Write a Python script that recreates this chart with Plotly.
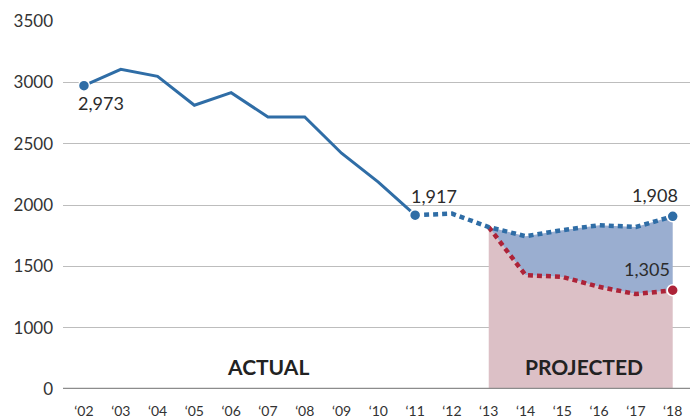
import plotly.graph_objects as go

years_actual = [2002, 2003, 2004, 2005, 2006, 2007, 2008, 2009, 2010, 2011]
actual = [2973, 3106, 3049, 2813, 2916, 2717, 2717, 2422, 2186, 1917]

years_bridge = [2011, 2012, 2013]
bridge = [1917, 1930, 1820]

years_proj = [2013, 2014, 2015, 2016, 2017, 2018]
proj_high = [1820, 1746, 1795, 1835, 1821, 1908]
proj_low = [1820, 1428, 1414, 1333, 1274, 1305]

tick_years = list(range(2002, 2019))
tick_labels = ["\u2018%02d" % (y % 100) for y in tick_years]

y_tickvals = [500, 1000, 1500, 2000, 2500, 3000, 3500]
y_ticktext = ["0", "1000", "1500", "2000", "2500", "3000", "3500"]
y_floor = 500  # axis is broken: the "0" tick sits one step below 1000

BLUE = "#2f6da6"
RED = "#ad2338"
BLUE_FILL = "#9aaed0"
PINK_FILL = "#dcc0c6"
FONT = "Lato"

fig = go.Figure()

# pink area: from the low projection down to the axis floor
fig.add_trace(go.Scatter(x=years_proj, y=[y_floor] * len(years_proj), mode="lines",
                         line=dict(width=0, color=PINK_FILL), hoverinfo="skip", showlegend=False))
fig.add_trace(go.Scatter(x=years_proj, y=proj_low, mode="lines", fill="tonexty",
                         fillcolor=PINK_FILL, line=dict(width=0, color=PINK_FILL),
                         hoverinfo="skip", showlegend=False))
# blue area between the two projections
fig.add_trace(go.Scatter(x=years_proj, y=proj_high, mode="lines", fill="tonexty",
                         fillcolor=BLUE_FILL, line=dict(width=0, color=BLUE_FILL),
                         hoverinfo="skip", showlegend=False))

# dotted projection lines
fig.add_trace(go.Scatter(x=years_proj, y=proj_low, mode="lines",
                         line=dict(color=RED, width=4.5, dash="5px,4px"), showlegend=False))
fig.add_trace(go.Scatter(x=years_bridge + years_proj[1:], y=bridge + proj_high[1:], mode="lines",
                         line=dict(color=BLUE, width=4.5, dash="5px,4px"), showlegend=False))

# actual solid line
fig.add_trace(go.Scatter(x=years_actual, y=actual, mode="lines",
                         line=dict(color=BLUE, width=3), showlegend=False))

# markers
fig.add_trace(go.Scatter(x=[years_actual[0], years_actual[-1], years_proj[-1]],
                         y=[actual[0], actual[-1], proj_high[-1]], mode="markers",
                         marker=dict(color=BLUE, size=11, line=dict(color="white", width=1.5)),
                         showlegend=False))
fig.add_trace(go.Scatter(x=[years_proj[-1]], y=[proj_low[-1]], mode="markers",
                         marker=dict(color=RED, size=11, line=dict(color="white", width=1.5)),
                         showlegend=False))

lab = dict(size=18, color="#2b2b2b", family=FONT)
fig.add_annotation(x=years_actual[0], y=actual[0], text=f"{actual[0]:,}", showarrow=False,
                   xanchor="left", yanchor="top", xshift=-8, yshift=-4, font=lab)
fig.add_annotation(x=years_actual[-1], y=actual[-1], text=f"{actual[-1]:,}", showarrow=False,
                   xanchor="left", yanchor="bottom", xshift=-6, yshift=6, font=lab)
fig.add_annotation(x=years_proj[-1], y=proj_high[-1], text=f"{proj_high[-1]:,}", showarrow=False,
                   xanchor="right", yanchor="bottom", xshift=7, yshift=8, font=lab)
fig.add_annotation(x=years_proj[-1], y=proj_low[-1], text=f"{proj_low[-1]:,}", showarrow=False,
                   xanchor="right", yanchor="bottom", xshift=-1, yshift=8, font=lab)

seg = dict(size=21, color="#222222", family=FONT, weight=700)
fig.add_annotation(x=2007.0, y=y_floor, text="ACTUAL", showarrow=False,
                   yanchor="bottom", yshift=8, font=seg)
fig.add_annotation(x=2015.6, y=y_floor, text="PROJECTED", showarrow=False,
                   yanchor="bottom", yshift=8, font=seg)

fig.update_layout(
    width=697, height=419,
    margin=dict(l=63, r=7, t=21, b=30, autoexpand=False),
    paper_bgcolor="white", plot_bgcolor="white",
    font=dict(family=FONT, color="#333333"),
    xaxis=dict(range=[2001.43, 2018.47], tickvals=tick_years, ticktext=tick_labels,
               showgrid=False, zeroline=False, showline=False, ticks="", automargin=False,
               ticklabelstandoff=12,
               tickfont=dict(size=14, color="#333333"), fixedrange=True),
    yaxis=dict(range=[y_floor, 3500], tickvals=y_tickvals, ticktext=y_ticktext,
               showgrid=True, gridcolor="#bdbdbd", gridwidth=1, zeroline=False,
               showline=False, ticks="", ticklabelstandoff=9, automargin=False,
               tickfont=dict(size=17, color="#333333"), fixedrange=True),
)

# baseline
fig.add_shape(type="line", xref="paper", x0=0, x1=1, yref="y", y0=y_floor, y1=y_floor,
              line=dict(color="#8c8c8c", width=2.5), layer="above")

fig.write_html("out.html", config={"displayModeBar": False},
               post_script="document.body.style.margin='0';")
